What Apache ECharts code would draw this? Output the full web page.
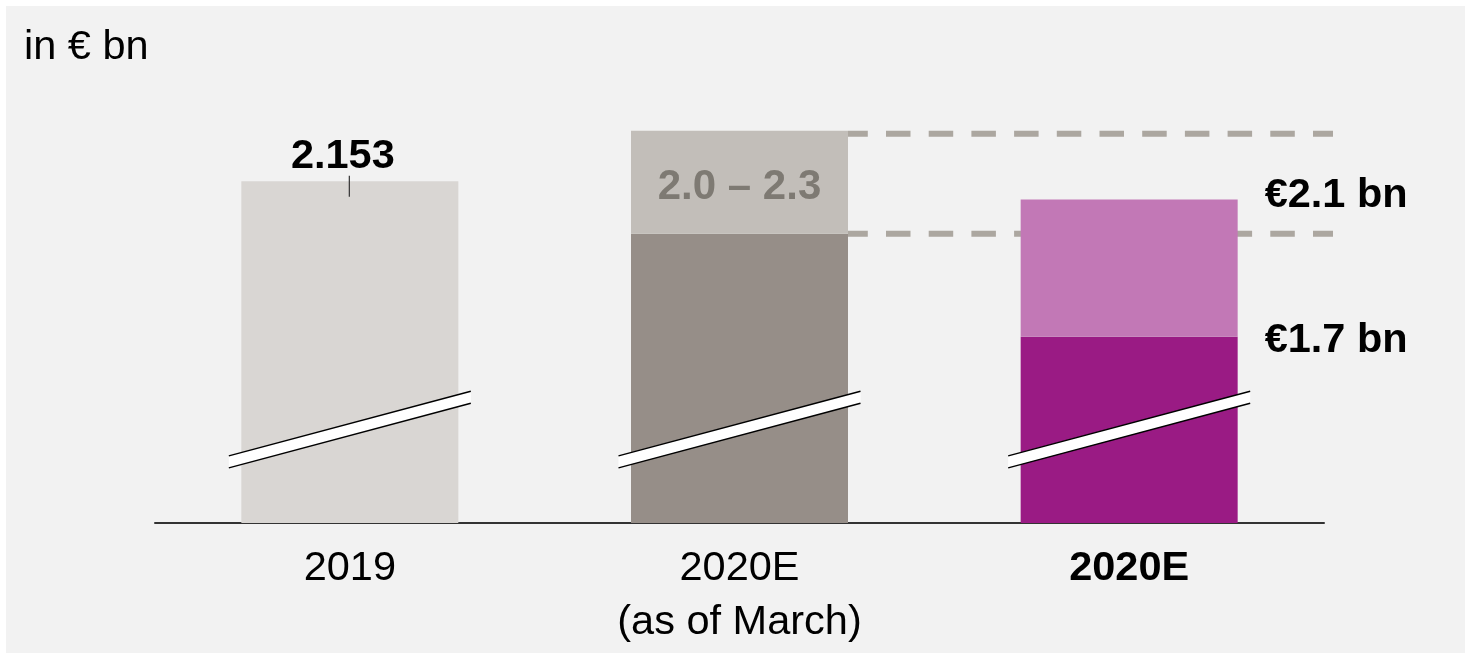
<!DOCTYPE html>
<html>
<head>
<meta charset="utf-8">
<script src="https://cdn.jsdelivr.net/npm/echarts@6/dist/echarts.min.js"></script>
<style>
  html, body { margin: 0; padding: 0; background: #ffffff; }
  #chart { width: 1465px; height: 653px; }
</style>
</head>
<body>
<div id="chart"></div>
<script>
// Guidance figures, in € bn
const categories = ['2019', '2020E\n(as of March)', '2020E'];
const baseValues = [2.153, 2.0, 1.7];      // actual / lower bound / low guidance
const upperValues = [null, 2.3, 2.1];      // upper bound of each guidance range
const breakValue = 1.43;                   // where the value axis is cut
const unitLabel = 'in € bn';

const baseColors = ['#d9d6d3', '#968e88', '#9a1b84'];
const upperColors = [null, '#c2beb9', '#c278b6'];
const FONT = '"Liberation Sans", Arial, Helvetica, sans-serif';
const BAR_W = 217;

const chart = echarts.init(document.getElementById('chart'), null, { renderer: 'canvas' });

const bigLabel = { fontFamily: FONT, fontSize: 41.5, fontWeight: 'bold', color: '#000' };

const baseData = baseValues.map((v, i) => {
  const item = { value: v, itemStyle: { color: baseColors[i] } };
  if (i === 0) {
    item.label = Object.assign({
      show: true, position: ['50%', 0], offset: [-7, -25],
      align: 'center', verticalAlign: 'middle',
      formatter: () => v.toFixed(3)
    }, bigLabel);
  } else if (i === 2) {
    item.label = Object.assign({
      show: true, position: ['100%', 0], offset: [27, 4],
      align: 'left', verticalAlign: 'middle',
      formatter: () => '€' + v.toFixed(1) + ' bn'
    }, bigLabel);
  }
  return item;
});

const upperData = upperValues.map((v, i) => {
  if (v == null) return '-';
  const item = { value: +(v - baseValues[i]).toFixed(3), itemStyle: { color: upperColors[i] } };
  if (i === 1) {
    item.label = {
      show: true, position: 'inside', offset: [0, 5],
      fontFamily: FONT, fontSize: 42, fontWeight: 'bold', color: '#7e7a73',
      formatter: () => baseValues[i].toFixed(1) + ' – ' + v.toFixed(1)
    };
  } else if (i === 2) {
    item.label = Object.assign({
      show: true, position: ['100%', 0], offset: [27, -4],
      align: 'left', verticalAlign: 'middle',
      formatter: () => '€' + v.toFixed(1) + ' bn'
    }, bigLabel);
  }
  return item;
});

// Dashed guide lines carried from the March range across to the new guidance
const rangeLines = [[1, upperValues[1], 3], [1, baseValues[1], 0]];

const option = {
  animation: false,
  backgroundColor: '#ffffff',
  graphic: [
    { type: 'rect', z: -10, shape: { x: 6, y: 6, width: 1465, height: 653 }, style: { fill: '#f2f2f2' } },
    { type: 'text', z: 10, style: { text: unitLabel, x: 24, y: 48, verticalAlign: 'middle',
      fontFamily: FONT, fontSize: 41.5, fill: '#000' } }
  ],
  grid: { left: 155, right: 141, top: 62, bottom: 130 },
  xAxis: {
    type: 'category',
    data: categories,
    axisLine: { lineStyle: { color: '#333333', width: 2 } },
    axisTick: { show: false },
    axisLabel: {
      margin: 19, fontFamily: FONT, fontSize: 41.5, color: '#000', lineHeight: 54,
      formatter: (v, i) => i === 2 ? '{b|' + v + '}' : v,
      rich: { b: { fontFamily: FONT, fontSize: 41.5, fontWeight: 'bold', color: '#000', lineHeight: 54 } }
    }
  },
  yAxis: { type: 'value', min: 1.158, max: 2.5, show: false },
  series: [
    {
      type: 'custom', z: 1, silent: true,
      data: rangeLines,
      renderItem(params, api) {
        const c = api.coord([api.value(0), api.value(1)]);
        const band = api.size([1, 0])[0];
        const y = c[1] + api.value(2);
        return {
          type: 'line',
          shape: { x1: c[0] + BAR_W / 2, y1: y, x2: c[0] + band * 1.5 + 9, y2: y },
          style: { stroke: '#aca7a0', lineWidth: 6, lineDash: [24.5, 18.2], lineDashOffset: 4.7 }
        };
      }
    },
    { name: 'base', type: 'bar', stack: 'total', z: 2, barWidth: BAR_W, data: baseData },
    { name: 'range', type: 'bar', stack: 'total', z: 2, barWidth: BAR_W, data: upperData },
    {
      // value marker under the 2019 label
      type: 'custom', z: 4, silent: true,
      data: [[0, baseValues[0]]],
      renderItem(params, api) {
        const c = api.coord([api.value(0), api.value(1)]);
        return {
          type: 'line',
          shape: { x1: c[0] - 0.5, y1: c[1] - 5.5, x2: c[0] - 0.5, y2: c[1] + 15.5 },
          style: { stroke: '#333333', lineWidth: 1.2 }
        };
      }
    },
    {
      // axis-break bands across each bar
      type: 'custom', z: 5, silent: true,
      data: categories.map((_, i) => [i, breakValue]),
      renderItem(params, api) {
        const c = api.coord([api.value(0), api.value(1)]);
        const half = 121, rise = 32.3, gap = 6;
        const l = [c[0] - half, c[1] + rise];
        const r = [c[0] + half, c[1] - rise];
        return {
          type: 'group',
          children: [
            { type: 'polygon', shape: { points: [[l[0], l[1] - gap], [r[0], r[1] - gap], [r[0], r[1] + gap], [l[0], l[1] + gap]] },
              style: { fill: '#ffffff' } },
            { type: 'line', shape: { x1: l[0], y1: l[1] - gap, x2: r[0], y2: r[1] - gap }, style: { stroke: '#000', lineWidth: 1.5 } },
            { type: 'line', shape: { x1: l[0], y1: l[1] + gap, x2: r[0], y2: r[1] + gap }, style: { stroke: '#000', lineWidth: 1.5 } }
          ]
        };
      }
    }
  ]
};

chart.setOption(option);
</script>
</body>
</html>
